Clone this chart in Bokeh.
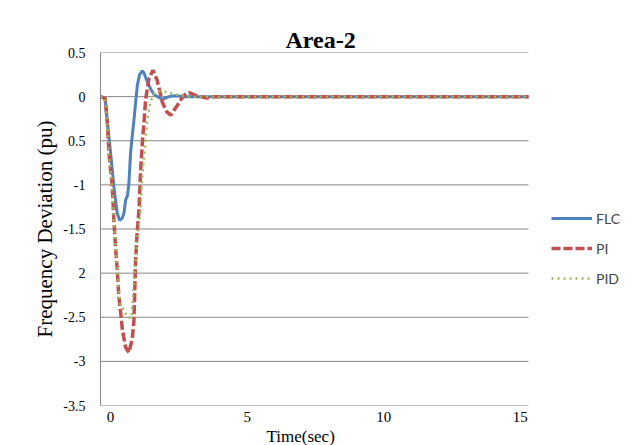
from bokeh.plotting import figure
from bokeh.models import Range1d, FixedTicker, Legend, LegendItem, Title
from bokeh.embed import file_html
from bokeh.resources import INLINE

# ---- data ----
flc_t = [-0.37, -0.2, -0.12, 0.0, 0.12, 0.24, 0.33, 0.42, 0.49, 0.55, 0.62, 0.67, 0.73,
         0.79, 0.85, 0.92, 0.98, 1.06, 1.16, 1.22, 1.28, 1.37, 1.46, 1.58, 1.71, 1.89,
         2.05, 2.2, 2.4, 2.7, 15.3]
flc_v = [0.0, -0.02, -0.29, -0.64, -1.02, -1.32, -1.40, -1.38, -1.32, -1.17, -1.12, -0.98, -0.64,
         -0.45, -0.28, -0.05, 0.13, 0.25, 0.29, 0.27, 0.22, 0.15, 0.09, 0.03, 0.0, -0.03,
         -0.01, 0.005, 0.01, 0.0, 0.0]

pi_t = [-0.37, -0.2, -0.12, -0.06, 0.06, 0.12, 0.18, 0.24, 0.30, 0.37, 0.43, 0.55, 0.67,
        0.79, 0.85, 0.88, 0.91, 0.97, 1.04, 1.10, 1.16, 1.22, 1.28, 1.40, 1.55, 1.71,
        1.89, 2.05, 2.2, 2.44, 2.68, 2.87, 3.11, 3.29, 3.54, 3.78, 15.3]
pi_v = [0.0, -0.02, -0.29, -0.64, -1.02, -1.40, -1.70, -1.95, -2.26, -2.45, -2.64, -2.84, -2.90,
        -2.75, -2.56, -2.26, -1.89, -1.55, -1.28, -0.83, -0.53, -0.30, -0.04, 0.20, 0.30, 0.18,
        -0.06, -0.17, -0.21, -0.10, 0.015, 0.045, 0.015, 0.0, -0.015, 0.0, 0.0]

pid_t = [-0.37, -0.2, -0.12, -0.06, 0.06, 0.12, 0.18, 0.24, 0.30, 0.37, 0.49, 0.61, 0.76,
         0.79, 0.85, 0.91, 0.97, 1.01, 1.10, 1.16, 1.22, 1.28, 1.34, 1.40, 1.46, 1.58,
         1.77, 1.95, 2.2, 2.44, 2.8, 15.3]
pid_v = [0.0, -0.02, -0.29, -0.64, -1.02, -1.40, -1.70, -1.95, -2.22, -2.38, -2.41, -2.50, -2.51,
         -2.41, -2.15, -1.89, -1.63, -1.51, -1.25, -0.90, -0.70, -0.48, -0.28, -0.15, -0.06, 0.03,
         0.06, 0.06, 0.04, 0.02, 0.0, 0.0]

series_names = ["FLC", "PI", "PID"]
x_ticks = [0, 5, 10, 15]
y_ticks = [0.5, 0.0, -0.5, -1.0, -1.5, -2.0, -2.5, -3.0, -3.5]
y_tick_labels = ["0.5", "0", "0.5", "-1", "-1.5", "2", "-2.5", "-3", "-3.5"]

title_text = "Area-2"
x_label = "Time(sec)"
y_label = "Frequency Deviation (pu)"

# plot-area limits (the frame is widened on the right to hold the legend)
x_min, x_max, x_frame_end = -0.37, 15.3, 19.29
y_min, y_max = -3.5, 0.5

# ---- figure ----
SERIF = "Liberation Serif"
p = figure(width=637, height=445, output_backend="svg", toolbar_location=None,
           x_range=Range1d(x_min, x_frame_end), y_range=Range1d(y_min, y_max),
           min_border_left=100, min_border_right=0, min_border_top=52, min_border_bottom=30)
p.outline_line_color = None
p.background_fill_color = "white"
p.border_fill_color = "white"

p.title.text = title_text
p.title.align = "left"
p.title.offset = 185
p.title.text_font = SERIF
p.title.text_font_size = "24px"
p.title.text_font_style = "bold"
p.title.text_color = "black"
p.title.standoff = 0

# gridlines drawn across the plot area only
p.xgrid.visible = False
p.ygrid.visible = False
p.segment(x0=[x_min] * len(y_ticks), y0=y_ticks, x1=[x_max] * len(y_ticks), y1=y_ticks,
          line_color="#868686", line_width=1)

p.xaxis.ticker = FixedTicker(ticks=x_ticks)
p.yaxis.ticker = FixedTicker(ticks=y_ticks)
p.yaxis.major_label_overrides = {t: s for t, s in zip(y_ticks, y_tick_labels)}

for ax in (p.xaxis[0], p.yaxis[0]):
    ax.axis_line_color = "#868686"
    ax.axis_line_width = 1
    ax.major_tick_line_color = None
    ax.minor_tick_line_color = None
    ax.major_tick_out = 0
    ax.major_tick_in = 0
    ax.major_label_text_font = SERIF
    ax.major_label_text_color = "black"
    ax.axis_label_text_font = SERIF
    ax.axis_label_text_font_style = "normal"
    ax.axis_label_text_color = "black"

p.xaxis.axis_line_color = None

p.yaxis.major_label_text_font_size = "14px"
p.yaxis.major_label_standoff = 15
p.yaxis.axis_label = y_label
p.yaxis.axis_label_text_font_size = "21px"
p.yaxis.axis_label_standoff = 3

p.xaxis.major_label_text_font_size = "15px"
p.xaxis.major_label_standoff = 6

p.add_layout(Title(text=x_label, align="left", offset=166, standoff=0,
                   text_font=SERIF, text_font_size="17px", text_font_style="normal",
                   text_color="black"), "below")

# lines
r_flc = p.line(flc_t, flc_v, line_color="#4F81BD", line_width=3)
r_pi = p.line(pi_t, pi_v, line_color="#C0504D", line_width=3.5, line_dash="9 3")
r_pid = p.line(pid_t, pid_v, line_color="#9BBB59", line_width=2.5, line_dash="2 4")

legend = Legend(items=[LegendItem(label=series_names[0], renderers=[r_flc]),
                       LegendItem(label=series_names[1], renderers=[r_pi]),
                       LegendItem(label=series_names[2], renderers=[r_pid])],
                location=(451, 117), glyph_width=41, glyph_height=20, spacing=10,
                padding=0, margin=0, border_line_color=None, background_fill_alpha=0,
                label_text_font="Lato", label_text_font_size="14px", label_standoff=4)
p.add_layout(legend)

open("out.html", "w").write(file_html(p, INLINE))
